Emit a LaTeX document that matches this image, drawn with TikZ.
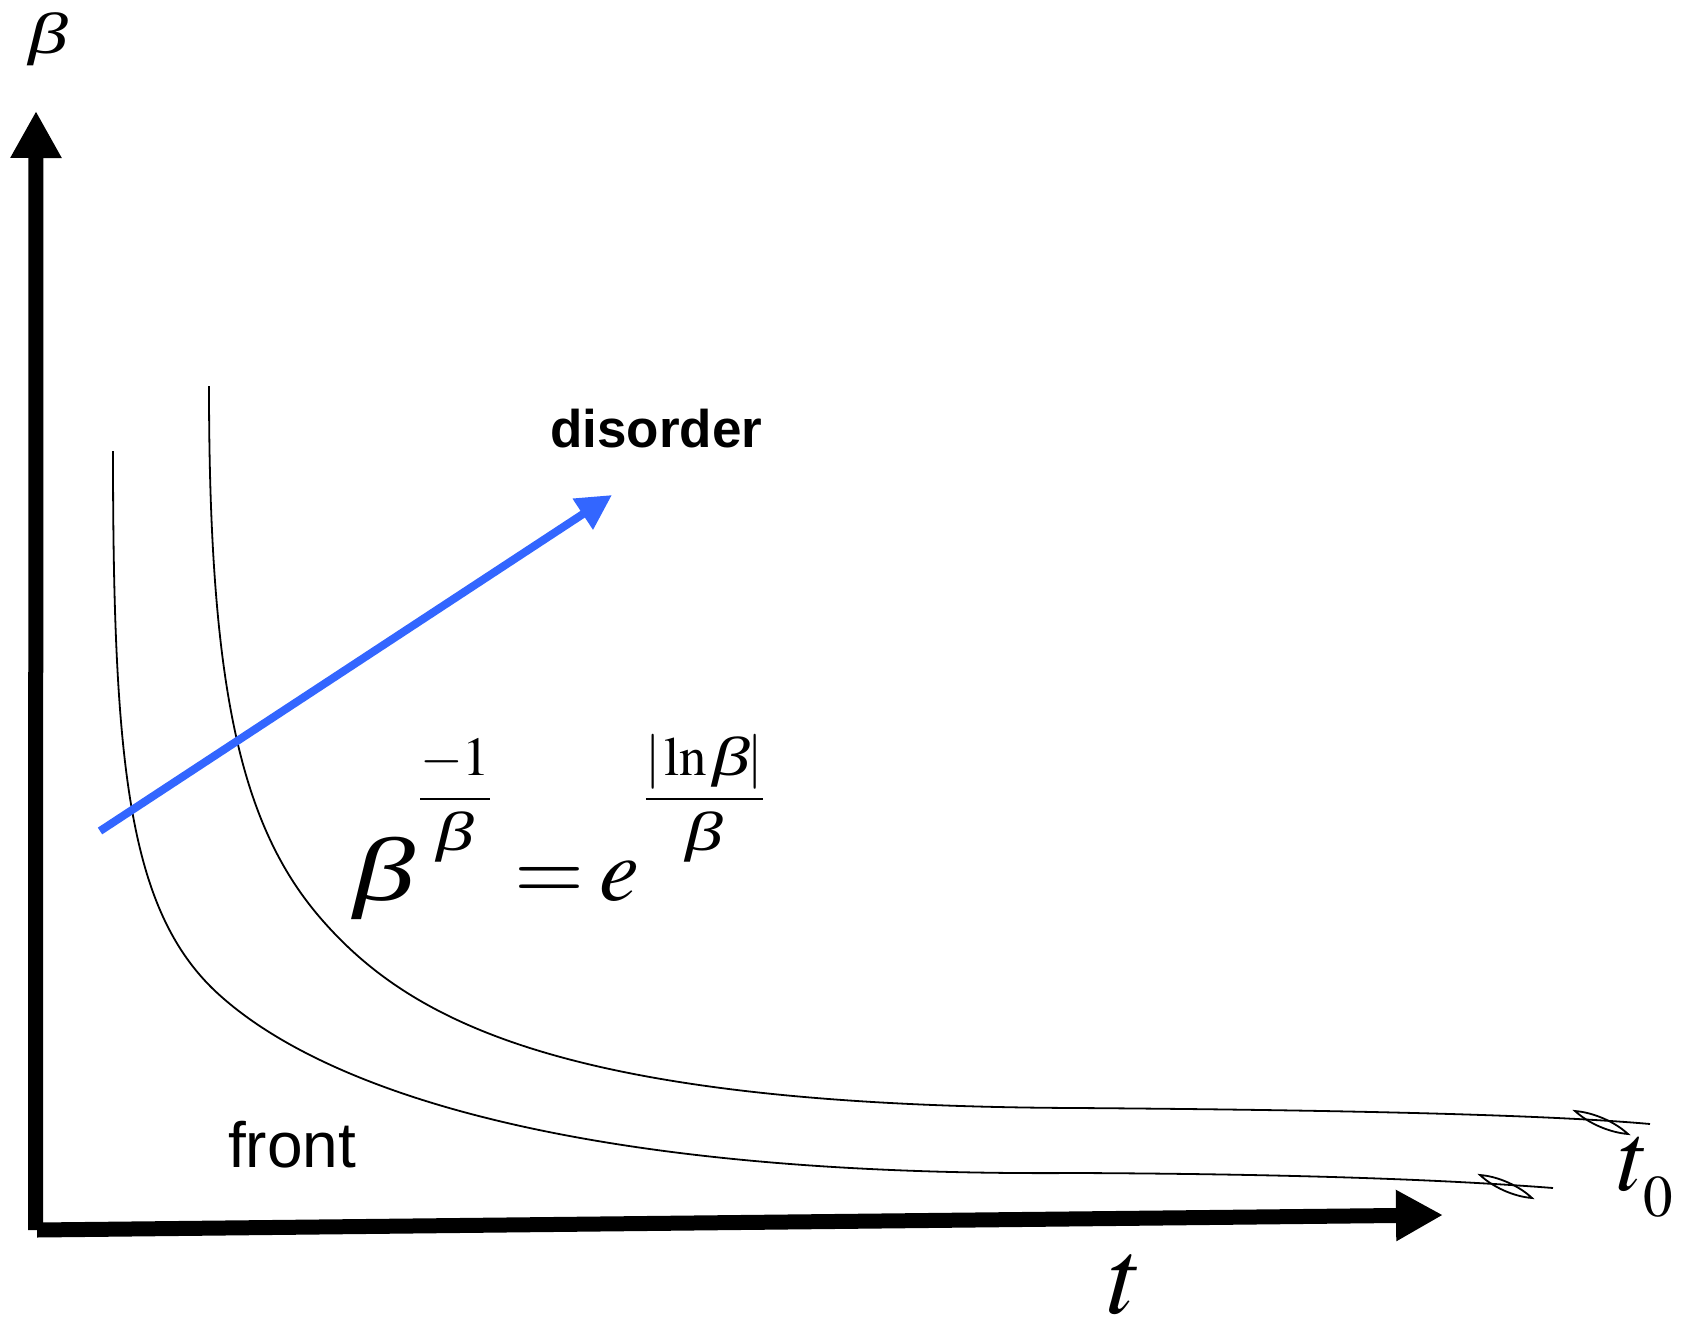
\documentclass[tikz,border=0pt]{standalone}
\usepackage{mathptmx}
\usepackage[no-math]{fontspec}
\usepackage{graphicx}
\newfontfamily\labelfont{Liberation Sans}
\newfontfamily\greekserif{Liberation Serif}
\usepackage{tikz}
\usetikzlibrary{arrows.meta,positioning}
\definecolor{disorderblue}{HTML}{3366FF}
\newcommand{\bt}{\mbox{\scalebox{1.38}[1]{\greekserif\itshape β}}}
\newcommand{\expfrac}[2]{\raisebox{87pt}{\fontsize{55}{60}\selectfont$\displaystyle\frac{#1}{#2}$}}
\tikzset{
  axisline/.style={black, line width=15pt, -{Triangle[length=47pt,width=48pt]}},
  curveline/.style={black, line width=1.8pt},
  disorderarrow/.style={disorderblue, line width=8pt, -{Triangle[length=35pt,width=35pt]}},
  axislabel/.style={inner sep=0pt, anchor=base west},
  wordlabel/.style={inner sep=0pt, anchor=base west, font=\labelfont}
}

\begin{document}
\begin{tikzpicture}[x=1pt,y=-1pt]
  \useasboundingbox (0,0) rectangle (1682,1319);
  % axes
  \coordinate (origin) at (35.5,1230);
  \coordinate (ytip) at (36,111);
  \coordinate (xstart) at (37,1230);
  \coordinate (xtip) at (1443,1215);
  \draw[axisline] (origin) -- (ytip);
  \draw[axisline] (xstart) -- (xtip);
  \node[axislabel] (betalabel) at (28,54) {\fontsize{58}{60}\selectfont$\bt$};
  \node[axislabel] (tlabel) at (1108,1313) {\fontsize{108}{110}\selectfont$t$};
  % the two fronts
  \draw[curveline] (113,451) .. controls (113,760) and (128,905) .. (212,988)
    .. controls (299.5,1073) and (526,1177) .. (1076,1173)
    .. controls (1300,1174) and (1450,1180) .. (1553,1188);
  \draw[curveline] (1480,1175) .. controls (1493.2,1187.4) and (1514,1196.6) .. (1532,1198) .. controls (1518.8,1185.6) and (1498,1176.4) .. cycle;
  \draw[curveline] (209,386) .. controls (209,686) and (240,827) .. (323,921)
    .. controls (415.5,1026) and (576,1106) .. (1076,1108)
    .. controls (1350,1110) and (1550,1115) .. (1650,1124);
  \draw[curveline] (1575,1111) .. controls (1588.6,1123.5) and (1609.6,1132.5) .. (1628,1134) .. controls (1614.4,1121.5) and (1593.4,1112.5) .. cycle;
  \node[axislabel] (tzero) at (1618,1190) {\fontsize{98}{100}\selectfont$t_{\raisebox{-12pt}{\fontsize{59}{60}\selectfont$0$}}$};
  % disorder direction
  \coordinate (dstart) at (100,831);
  \coordinate (dtip) at (612,495);
  \draw[disorderarrow] (dstart) -- (dtip);
  \node[wordlabel] (disorder) at (550,447) {\fontsize{53}{60}\selectfont\bfseries disorder};
  \node[wordlabel] (front) at (228,1167) {\fontsize{64}{70}\selectfont front};
  % formula
  \node[axislabel] (formula) at (353,900) {\fontsize{90}{96}\selectfont$\bt\hspace{4pt}\expfrac{-1}{\bt}\hspace{3pt}=\hspace{-5pt}e\hspace{5pt}\expfrac{|\mkern-1mu\ln\bt\mkern-1mu|}{\bt}$};
\end{tikzpicture}
\end{document}
